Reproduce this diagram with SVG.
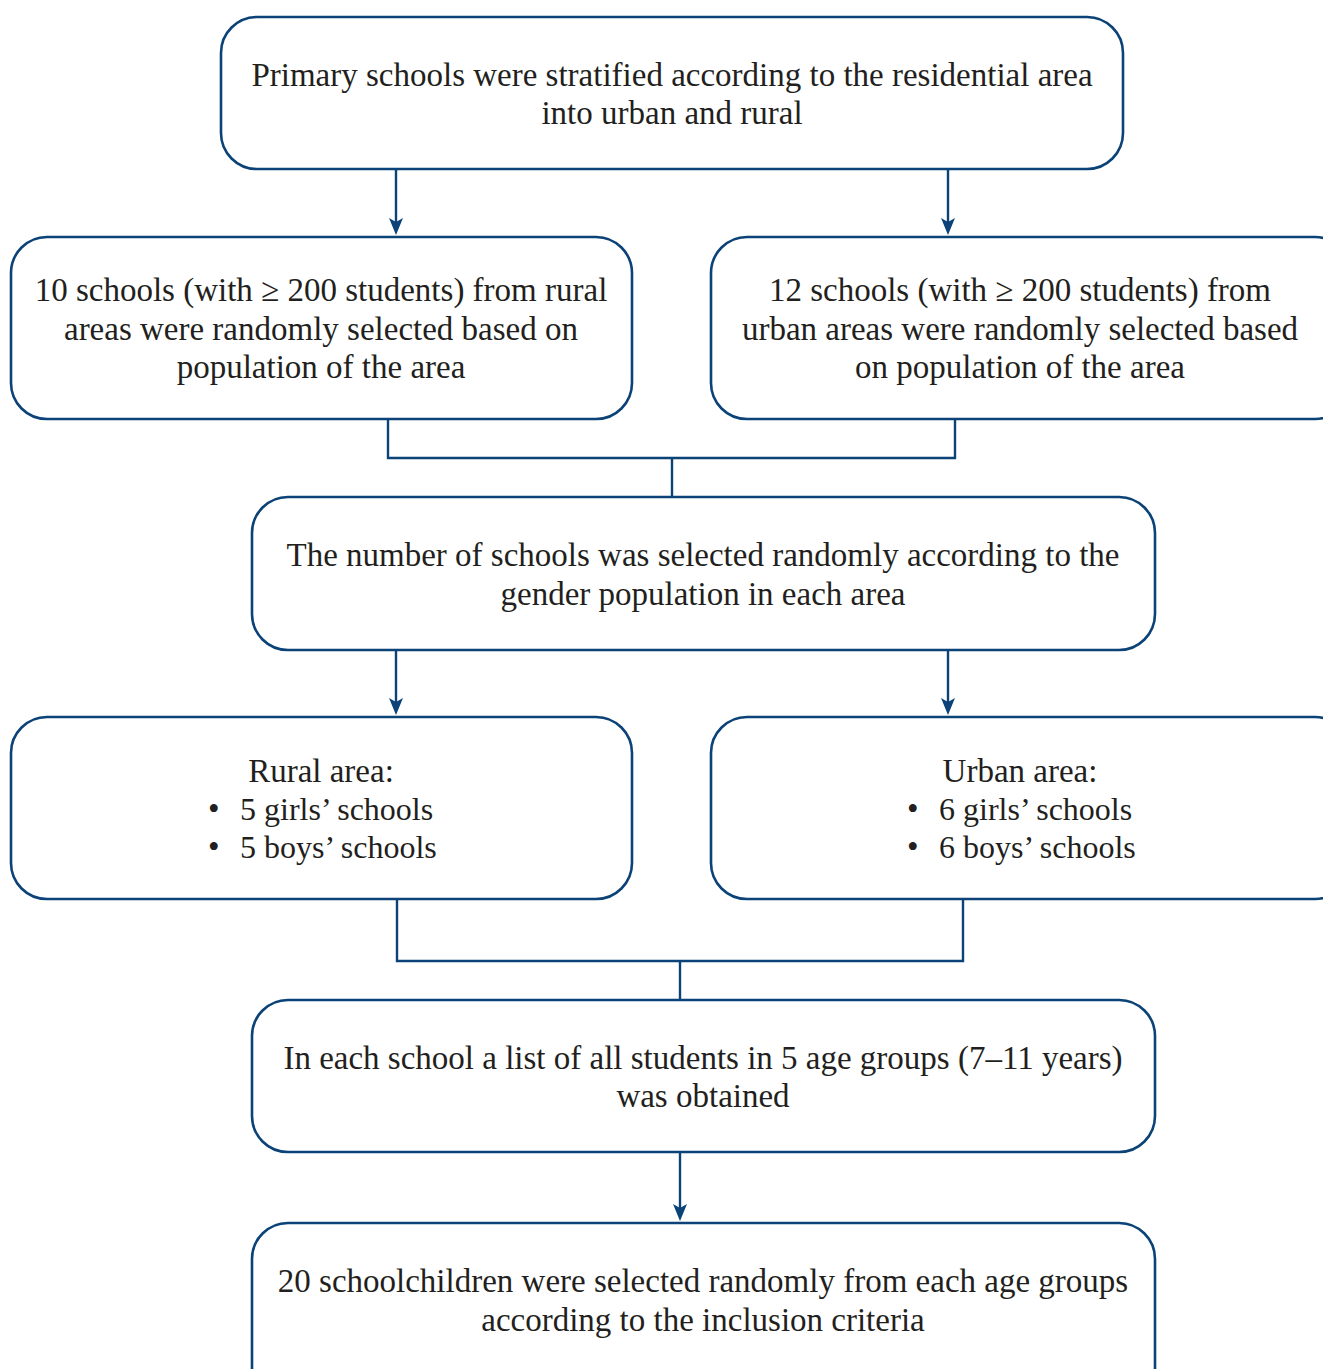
<svg xmlns="http://www.w3.org/2000/svg" width="1323" height="1369" viewBox="0 0 1323 1369">
<defs>
<style>
.box{fill:#fff;stroke:#0b4277;stroke-width:2.6}
.ln{fill:none;stroke:#0b4277;stroke-width:2.4}
.ah{fill:#0b4277}
text{font-family:"Liberation Serif","DejaVu Serif",serif;font-size:33px;fill:#231f20}
.c{text-anchor:middle}
.b{font-size:32px}
</style>
</defs>
<rect width="1323" height="1369" fill="#fff"/>
<g id="connectors">
<line class="ln" x1="396" y1="170" x2="396" y2="222"/>
<path class="ah" d="M389,218 L396,235 L403,218 L396,222 Z"/>
<line class="ln" x1="948" y1="170" x2="948" y2="222"/>
<path class="ah" d="M941,218 L948,235 L955,218 L948,222 Z"/>
<polyline class="ln" points="388,419 388,458 955,458 955,419"/>
<line class="ln" x1="672" y1="458" x2="672" y2="497"/>
<line class="ln" x1="396" y1="651" x2="396" y2="702"/>
<path class="ah" d="M389,698 L396,715 L403,698 L396,702 Z"/>
<line class="ln" x1="948" y1="651" x2="948" y2="702"/>
<path class="ah" d="M941,698 L948,715 L955,698 L948,702 Z"/>
<polyline class="ln" points="397,899 397,961 963,961 963,899"/>
<line class="ln" x1="680" y1="961" x2="680" y2="1000"/>
<line class="ln" x1="680" y1="1153" x2="680" y2="1208"/>
<path class="ah" d="M673,1204 L680,1221 L687,1204 L680,1208 Z"/>
</g>
<g id="n1">
<rect class="box" x="221" y="17" width="902" height="152" rx="36"/>
<text class="c" x="672" y="86">Primary schools were stratified according to the residential area</text>
<text class="c" x="672" y="124">into urban and rural</text>
</g>
<g id="n2">
<rect class="box" x="11" y="237" width="621" height="182" rx="36"/>
<text class="c" x="321" y="301">10 schools (with ≥ 200 students) from rural</text>
<text class="c" x="321" y="340">areas were randomly selected based on</text>
<text class="c" x="321" y="378">population of the area</text>
</g>
<g id="n3">
<rect class="box" x="711" y="237" width="640" height="182" rx="36"/>
<text class="c" x="1020" y="301">12 schools (with ≥ 200 students) from</text>
<text class="c" x="1020" y="340">urban areas were randomly selected based</text>
<text class="c" x="1020" y="378">on population of the area</text>
</g>
<g id="n4">
<rect class="box" x="252" y="497" width="903" height="153" rx="36"/>
<text class="c" x="703" y="566">The number of schools was selected randomly according to the</text>
<text class="c" x="703" y="605">gender population in each area</text>
</g>
<g id="n5">
<rect class="box" x="11" y="717" width="621" height="182" rx="36"/>
<text class="c" x="321" y="782">Rural area:</text>
<text x="208" y="820">•</text>
<text class="b" x="240" y="820">5 girls’ schools</text>
<text x="208" y="858">•</text>
<text class="b" x="240" y="858">5 boys’ schools</text>
</g>
<g id="n6">
<rect class="box" x="711" y="717" width="640" height="182" rx="36"/>
<text class="c" x="1020" y="782">Urban area:</text>
<text x="907" y="820">•</text>
<text class="b" x="939" y="820">6 girls’ schools</text>
<text x="907" y="858">•</text>
<text class="b" x="939" y="858">6 boys’ schools</text>
</g>
<g id="n7">
<rect class="box" x="252" y="1000" width="903" height="152" rx="36"/>
<text class="c" x="703" y="1069">In each school a list of all students in 5 age groups (7–11 years)</text>
<text class="c" x="703" y="1107">was obtained</text>
</g>
<g id="n8">
<rect class="box" x="252" y="1223" width="903" height="182" rx="36"/>
<text class="c" x="703" y="1292">20 schoolchildren were selected randomly from each age groups</text>
<text class="c" x="703" y="1331">according to the inclusion criteria</text>
</g>
</svg>
